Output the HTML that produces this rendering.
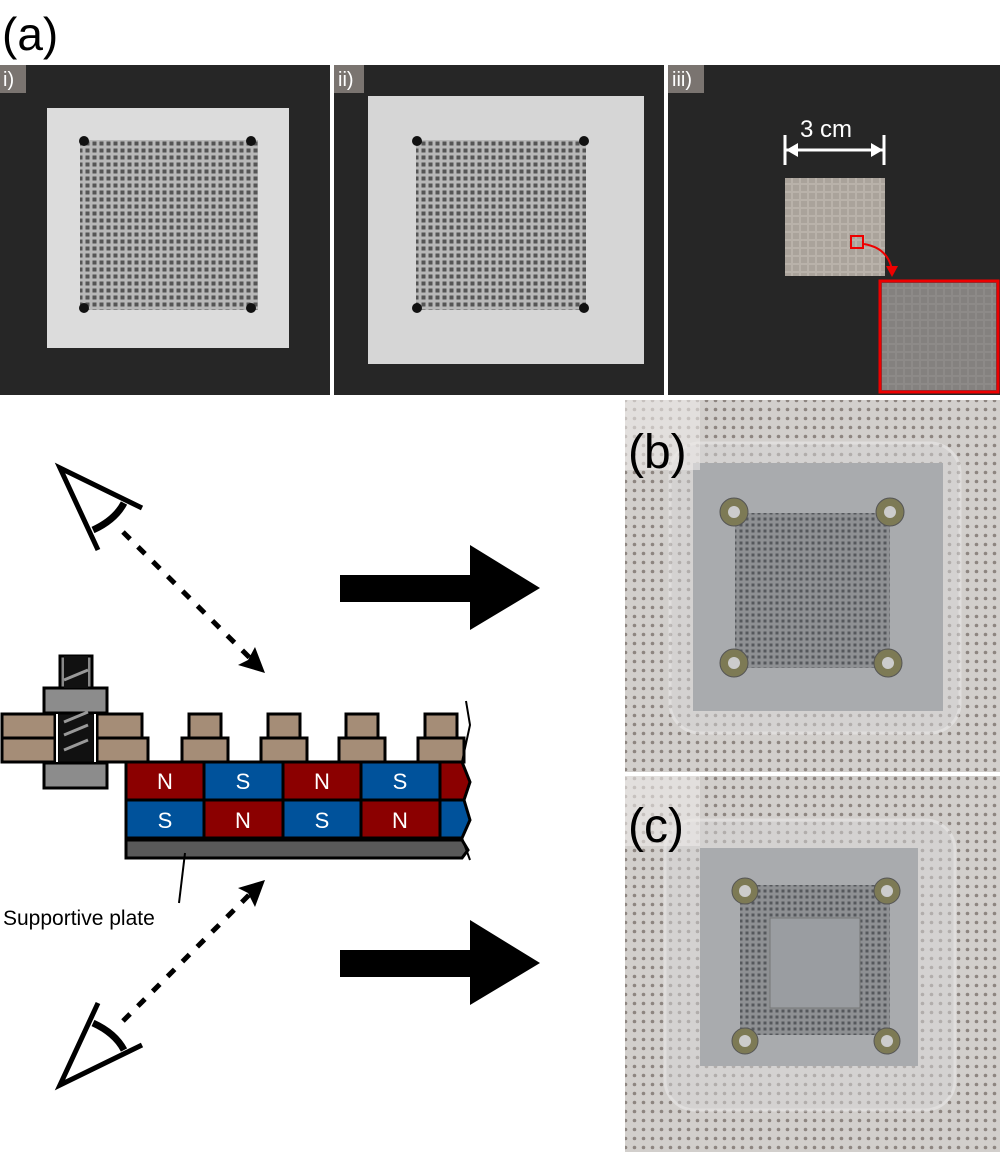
<!DOCTYPE html>
<html><head><meta charset="utf-8"><style>
html,body{margin:0;padding:0;background:#fff}
body{width:1000px;height:1152px;position:relative;overflow:hidden;font-family:"Liberation Sans",sans-serif}
</style></head><body>
<svg width="1000" height="1152" viewBox="0 0 1000 1152" xmlns="http://www.w3.org/2000/svg" style="position:absolute;left:0;top:0">
<defs>
<pattern id="dots" width="9" height="9" patternUnits="userSpaceOnUse">
<rect width="9" height="9" fill="#d2cfcc"/><circle cx="4.5" cy="4.5" r="1.8" fill="#8d8580"/>
</pattern>
<pattern id="holes" width="7" height="7" patternUnits="userSpaceOnUse">
<rect width="7" height="7" fill="#b8b8b8"/><rect x="1.5" y="1.5" width="4" height="4" fill="#555"/>
</pattern>
<pattern id="holes2" width="6" height="6" patternUnits="userSpaceOnUse">
<rect width="6" height="6" fill="#8e9093"/><rect x="1.5" y="1.5" width="3" height="3" fill="#55585c"/>
</pattern>
<pattern id="grid" width="8" height="8" patternUnits="userSpaceOnUse">
<rect width="8" height="8" fill="#b9b2aa"/><rect x="1" y="1" width="6" height="6" fill="#aaa39b"/>
</pattern>
</defs>
<text x="2" y="50" font-size="46" fill="#000">(a)</text>
<!-- panel i -->
<rect x="0" y="65" width="330" height="330" fill="#262626"/>
<rect x="47" y="108" width="242" height="240" fill="#dcdcdc"/>
<rect x="80" y="140" width="178" height="170" fill="url(#holes)"/>
<circle cx="84" cy="141" r="5" fill="#111"/><circle cx="251" cy="141" r="5" fill="#111"/>
<circle cx="84" cy="308" r="5" fill="#111"/><circle cx="251" cy="308" r="5" fill="#111"/>
<rect x="0" y="65" width="26" height="28" fill="#7a7470"/>
<text x="3" y="86" font-size="20" fill="#fff">i)</text>
<!-- panel ii -->
<rect x="334" y="65" width="330" height="330" fill="#262626"/>
<rect x="368" y="96" width="276" height="268" fill="#d6d6d6"/>
<rect x="416" y="140" width="170" height="170" fill="url(#holes)"/>
<circle cx="417" cy="141" r="5" fill="#111"/><circle cx="584" cy="141" r="5" fill="#111"/>
<circle cx="417" cy="308" r="5" fill="#111"/><circle cx="584" cy="308" r="5" fill="#111"/>
<rect x="334" y="65" width="30" height="28" fill="#7a7470"/>
<text x="338" y="86" font-size="20" fill="#fff">ii)</text>
<!-- panel iii -->
<rect x="668" y="65" width="332" height="330" fill="#262626"/>
<rect x="668" y="65" width="36" height="28" fill="#7a7470"/>
<text x="672" y="86" font-size="20" fill="#fff">iii)</text>
<text x="800" y="137" font-size="24" fill="#fff">3 cm</text>
<line x1="786" y1="150" x2="883" y2="150" stroke="#fff" stroke-width="3"/>
<line x1="785" y1="135" x2="785" y2="165" stroke="#fff" stroke-width="3"/>
<line x1="884" y1="135" x2="884" y2="165" stroke="#fff" stroke-width="3"/>
<polygon points="786,150 798,143 798,157" fill="#fff"/><polygon points="883,150 871,143 871,157" fill="#fff"/>
<rect x="785" y="178" width="100" height="98" fill="url(#grid)"/>
<rect x="851" y="236" width="12" height="12" fill="none" stroke="#e00" stroke-width="2"/>
<path d="M864 244 Q888 248 892 270" fill="none" stroke="#e00" stroke-width="2"/>
<polygon points="886,266 898,266 892,277" fill="#e00"/>
<rect x="880" y="281" width="118" height="111" fill="#4a4e55" stroke="#e00" stroke-width="3"/>
<rect x="882" y="283" width="114" height="107" fill="url(#grid)" opacity="0.6"/>
<!-- panel b -->
<rect x="625" y="400" width="375" height="372" fill="url(#dots)"/>
<rect x="670" y="443" width="290" height="290" rx="30" fill="#d6d6d6" opacity="0.5" stroke="#eee" stroke-width="3"/>
<rect x="693" y="463" width="250" height="248" fill="#a9abae"/>
<rect x="735" y="513" width="155" height="155" fill="url(#holes2)"/>
<g fill="#7d7a55" stroke="#555"><circle cx="734" cy="512" r="14"/><circle cx="890" cy="512" r="14"/><circle cx="734" cy="663" r="14"/><circle cx="888" cy="663" r="14"/></g>
<g fill="#ccc"><circle cx="734" cy="512" r="6"/><circle cx="890" cy="512" r="6"/><circle cx="734" cy="663" r="6"/><circle cx="888" cy="663" r="6"/></g>
<rect x="625" y="400" width="75" height="70" fill="#eceae8" opacity="0.6"/>
<text x="628" y="468" font-size="48" fill="#000">(b)</text>
<!-- panel c -->
<rect x="625" y="776" width="375" height="376" fill="url(#dots)"/>
<rect x="665" y="820" width="290" height="290" rx="30" fill="#d6d6d6" opacity="0.5" stroke="#eee" stroke-width="3"/>
<rect x="700" y="848" width="218" height="218" fill="#a9abae"/>
<rect x="740" y="885" width="150" height="150" fill="url(#holes2)"/>
<rect x="770" y="918" width="90" height="90" fill="#9a9da1" stroke="#777"/>
<g fill="#7d7a55" stroke="#555"><circle cx="745" cy="891" r="13"/><circle cx="887" cy="891" r="13"/><circle cx="745" cy="1041" r="13"/><circle cx="887" cy="1041" r="13"/></g>
<g fill="#ccc"><circle cx="745" cy="891" r="6"/><circle cx="887" cy="891" r="6"/><circle cx="745" cy="1041" r="6"/><circle cx="887" cy="1041" r="6"/></g>
<rect x="625" y="776" width="75" height="70" fill="#eceae8" opacity="0.6"/>
<text x="628" y="842" font-size="48" fill="#000">(c)</text>
<!-- big arrows -->
<polygon points="340,575 470,575 470,545 540,588 470,630 470,602 340,602" fill="#000"/>
<polygon points="340,950 470,950 470,920 540,963 470,1005 470,977 340,977" fill="#000"/>
<!-- eyes -->
<g fill="none" stroke="#000" stroke-width="5">
<path d="M142 508 L60 468 L98 550"/>
<path d="M93 530 Q115 520 124 503" stroke-width="7"/>
<path d="M142 1045 L60 1085 L98 1003"/>
<path d="M93 1023 Q115 1033 124 1050" stroke-width="7"/>
</g>
<g stroke="#000" stroke-width="5" stroke-dasharray="10,11">
<line x1="123" y1="532" x2="252" y2="660"/>
<line x1="123" y1="1021" x2="252" y2="892"/>
</g>
<polygon points="265,673 238,665 248,660 255,647" fill="#000"/>
<polygon points="265,880 238,888 248,893 255,907" fill="#000"/>
<!-- bolt and blocks -->
<g stroke="#000" stroke-width="3">
<rect x="60" y="656" width="32" height="110" fill="#888"/>
<rect x="44" y="688" width="63" height="25" fill="#8c8c8c"/>
<rect x="44" y="763" width="63" height="25" fill="#8c8c8c"/>
<rect x="2" y="714" width="53" height="24" fill="#a58d77"/>
<rect x="2" y="738" width="53" height="24" fill="#a58d77"/>
<rect x="97" y="714" width="45" height="24" fill="#a58d77"/>
<rect x="97" y="738" width="51" height="24" fill="#a58d77"/>
<rect x="58" y="714" width="36" height="48" fill="#111" stroke-width="1"/>
<rect x="64" y="656" width="24" height="32" fill="#111" stroke-width="0"/>
</g>
<g stroke="#999" stroke-width="3">
<line x1="64" y1="680" x2="88" y2="670"/><line x1="64" y1="735" x2="88" y2="725"/><line x1="64" y1="750" x2="88" y2="740"/><line x1="64" y1="722" x2="88" y2="712"/>
</g>
<g stroke="#fff" stroke-width="2"><line x1="57" y1="714" x2="57" y2="762"/><line x1="95" y1="714" x2="95" y2="762"/></g>
<g fill="#a58d77" stroke="#000" stroke-width="3">
<rect x="189" y="714" width="32" height="24"/><rect x="182" y="738" width="46" height="24"/>
<rect x="268" y="714" width="32" height="24"/><rect x="261" y="738" width="46" height="24"/>
<rect x="346" y="714" width="32" height="24"/><rect x="339" y="738" width="46" height="24"/>
<rect x="425" y="714" width="32" height="24"/><rect x="418" y="738" width="46" height="24"/>
</g>
<!-- magnets -->
<g stroke="#000" stroke-width="3">
<rect x="126" y="762" width="78" height="38" fill="#8b0000"/>
<rect x="204" y="762" width="79" height="38" fill="#00529b"/>
<rect x="283" y="762" width="78" height="38" fill="#8b0000"/>
<rect x="361" y="762" width="79" height="38" fill="#00529b"/>
<rect x="126" y="800" width="78" height="38" fill="#00529b"/>
<rect x="204" y="800" width="79" height="38" fill="#8b0000"/>
<rect x="283" y="800" width="78" height="38" fill="#00529b"/>
<rect x="361" y="800" width="79" height="38" fill="#8b0000"/>
<polygon points="440,762 462,762 470,782 464,800 440,800" fill="#8b0000"/>
<polygon points="440,800 464,800 470,820 462,838 440,838" fill="#00529b"/>
<polygon points="126,840 462,840 468,850 462,858 126,858" fill="#595959"/>
</g>
<path d="M466 701 L470 725 L462 762 L470 782 L464 800 L470 820 L462 838 L470 860" fill="none" stroke="#000" stroke-width="2"/>
<g fill="#fff" font-size="22" text-anchor="middle">
<text x="165" y="789">N</text><text x="243" y="789">S</text><text x="322" y="789">N</text><text x="400" y="789">S</text>
<text x="165" y="828">S</text><text x="243" y="828">N</text><text x="322" y="828">S</text><text x="400" y="828">N</text>
</g>
<line x1="185" y1="853" x2="179" y2="903" stroke="#000" stroke-width="2"/>
<text x="3" y="925" font-size="21" fill="#000">Supportive plate</text>
</svg>
</body></html>
